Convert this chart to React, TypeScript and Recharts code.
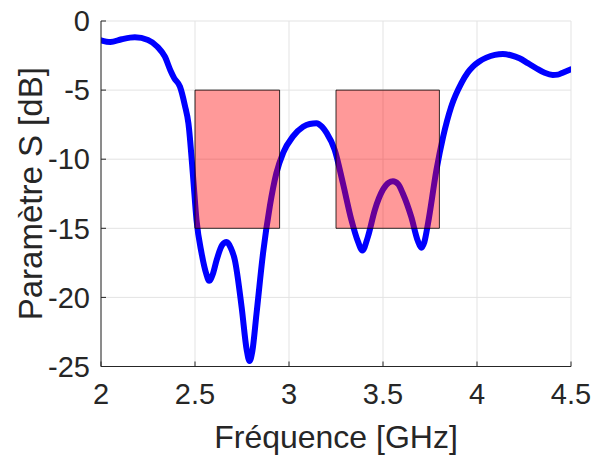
import React from 'react';
import { LineChart, Line, XAxis, YAxis, CartesianGrid, ReferenceArea } from 'recharts';

const freqGHz = [2.0, 2.05, 2.11, 2.18, 2.25, 2.3, 2.34, 2.37, 2.39, 2.42, 2.446, 2.465, 2.49, 2.508, 2.535, 2.56, 2.575, 2.595, 2.615, 2.645, 2.668, 2.69, 2.712, 2.748, 2.775, 2.79, 2.805, 2.827, 2.862, 2.898, 2.933, 2.97, 3.02, 3.075, 3.11, 3.146, 3.175, 3.2, 3.243, 3.287, 3.332, 3.367, 3.39, 3.42, 3.456, 3.5, 3.53, 3.553, 3.58, 3.606, 3.65, 3.685, 3.704, 3.72, 3.74, 3.784, 3.82, 3.863, 3.917, 3.95, 3.978, 4.01, 4.05, 4.095, 4.138, 4.18, 4.226, 4.27, 4.315, 4.36, 4.403, 4.43, 4.456, 4.5];
const sParamDb = [-1.4, -1.52, -1.32, -1.18, -1.37, -1.86, -2.58, -3.6, -4.15, -4.75, -6.1, -7.4, -11.3, -14.4, -16.8, -18.3, -18.8, -18.3, -17.3, -16.2, -16.0, -16.4, -17.3, -20.7, -23.8, -24.6, -23.9, -21.2, -16.8, -13.4, -11.0, -9.5, -8.37, -7.65, -7.45, -7.4, -7.65, -8.1, -9.33, -11.75, -14.4, -15.97, -16.6, -15.6, -13.7, -12.2, -11.7, -11.6, -11.8, -12.5, -14.16, -15.9, -16.4, -16.0, -14.6, -10.8, -8.37, -6.2, -4.5, -3.75, -3.3, -2.95, -2.65, -2.45, -2.39, -2.48, -2.7, -3.05, -3.42, -3.75, -3.9, -3.88, -3.74, -3.5];

const bandStarts = [2.5, 3.25];
const bandEnds = [2.95, 3.8];
const bandTop = -5;
const bandBottom = -15;

const xTicks = [2, 2.5, 3, 3.5, 4, 4.5];
const yTicks = [0, -5, -10, -15, -20, -25];

const xLabel = 'Fréquence [GHz]';
const yLabel = 'Paramètre S [dB]';

const data = freqGHz.map((f, i) => ({ f, s: sParamDb[i] }));

const FONT = '"Liberation Sans", Arial, Helvetica, sans-serif';
const TXT = '#262626';

export default function App() {
  return (
    <div style={{ position: 'absolute', left: 0, top: 0, width: 593, height: 463, background: '#fff' }}>
      <LineChart
        width={593}
        height={463}
        data={data}
        margin={{ top: 21, right: 22, bottom: 36.5, left: 31 }}
        style={{ fontFamily: FONT }}
      >
        <CartesianGrid stroke="#e3e3e3" strokeWidth={1} />
        <XAxis
          dataKey="f"
          type="number"
          domain={[2, 4.5]}
          ticks={xTicks}
          allowDataOverflow
          height={60}
          stroke={TXT}
          axisLine={{ stroke: TXT, strokeWidth: 1 }}
          tickSize={-5}
          tickMargin={22}
          tick={{ fill: TXT, fontSize: 29, fontFamily: FONT }}
          tickFormatter={(v: number) => String(v)}
          label={{
            content: (p: any) => {
              const vb = p.viewBox || {};
              return (
                <text x={vb.x + vb.width / 2} y={448} textAnchor="middle" fontSize={32} fill={TXT} fontFamily={FONT}>
                  {xLabel}
                </text>
              );
            },
          }}
        />
        <YAxis
          type="number"
          domain={[-25, 0]}
          ticks={yTicks}
          allowDataOverflow
          width={70}
          stroke={TXT}
          axisLine={{ stroke: TXT, strokeWidth: 1 }}
          tickSize={-5}
          tickMargin={16}
          tick={{ fill: TXT, fontSize: 29, fontFamily: FONT }}
          label={{
            content: (p: any) => {
              const vb = p.viewBox || {};
              const cy = vb.y + vb.height / 2;
              return (
                <text transform={`translate(42,${cy}) rotate(-90)`} textAnchor="middle" fontSize={33} fill={TXT} fontFamily={FONT}>
                  {yLabel}
                </text>
              );
            },
          }}
        />
        <Line
          type="monotone"
          dataKey="s"
          stroke="#0000ff"
          strokeWidth={6}
          dot={false}
          activeDot={false}
          strokeLinejoin="round"
          strokeLinecap="round"
          isAnimationActive={false}
        />
        {bandStarts.map((x1, i) => (
          <ReferenceArea
            key={i}
            x1={x1}
            x2={bandEnds[i]}
            y1={bandTop}
            y2={bandBottom}
            fill="#ff0000"
            fillOpacity={0.4}
            stroke="#000000"
            strokeWidth={1}
            strokeOpacity={0.8}
            {...({ zIndex: 600 } as any)}
          />
        ))}
      </LineChart>
    </div>
  );
}
